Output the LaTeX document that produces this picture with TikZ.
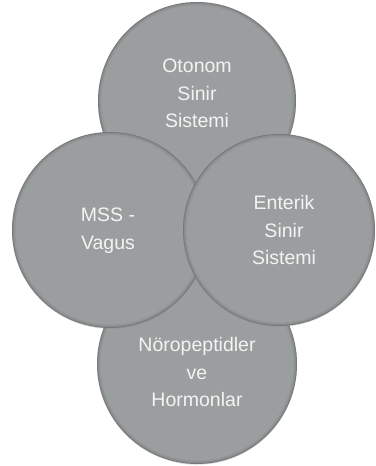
\documentclass[tikz,border=0pt]{standalone}
\usepackage{fontspec}
\setmainfont{Liberation Sans}
\usetikzlibrary{shadows}
\definecolor{cfill}{HTML}{9B9E9F}
\definecolor{ctext}{HTML}{F3F3F3}
\tikzset{
  circ/.style={circle, fill=cfill, inner sep=0pt, minimum size=2*#1,
    drop shadow={shadow xshift=0pt, shadow yshift=-0.8pt, opacity=0.25},
    path picture={
      \draw[line width=7pt, black, opacity=0.05] (path picture bounding box.center) circle (#1);
      \draw[line width=4pt, black, opacity=0.07] (path picture bounding box.center) circle (#1);
      \draw[line width=1.6pt, black, opacity=0.12] (path picture bounding box.center) circle (#1);
    }},
  lbl/.style={text=ctext, align=center, inner sep=0pt,
    font=\fontsize{19.5}{27.5}\selectfont}
}
\begin{document}
\begin{tikzpicture}[x=1pt,y=1pt]
\useasboundingbox (0,0) rectangle (375,466);
\node[circ=99] (top) at (197,365) {};
\node[circ=100] (bot) at (197,102) {};
\node[circ=98] (left) at (110,236) {};
\node[circ=96] (right) at (279,236) {};
\node[lbl] (ttop) at (197,372.5) {Otonom\\Sinir\\Sistemi};
\node[lbl] (tleft) at (108,235.5) {MSS -\\Vagus};
\node[lbl] (tright) at (284,235.5) {Enterik\\Sinir\\Sistemi};
\node[lbl] (tbot) at (197,93.5) {Nöropeptidler\\ve\\Hormonlar};
\end{tikzpicture}
\end{document}
